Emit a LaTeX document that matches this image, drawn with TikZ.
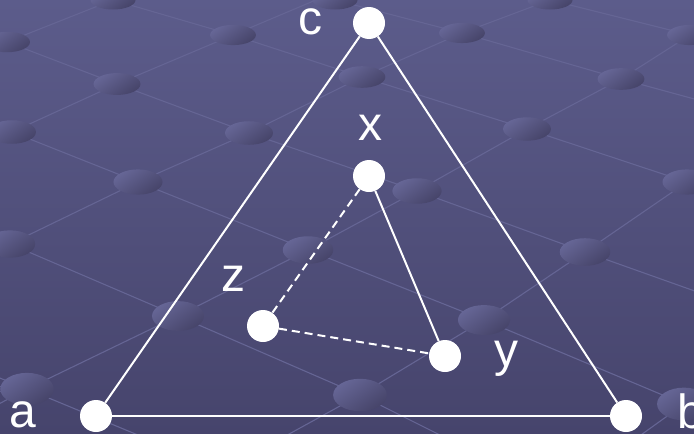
\documentclass[tikz,border=0pt]{standalone}
\usepackage{fontspec}
\setmainfont{Liberation Sans}
\usetikzlibrary{arrows}

\definecolor{bgtop}{RGB}{92,92,139}
\definecolor{bgbot}{RGB}{70,68,108}
\definecolor{gridln}{RGB}{101,101,148}
\definecolor{spotlt}{RGB}{102,102,150}
\definecolor{spotdk}{RGB}{70,68,105}

\tikzset{
  vertex/.style={circle,fill=white,draw=none,inner sep=0pt,minimum size=32pt},
  lab/.style={text=white,inner sep=0pt,font=\fontsize{48}{52}\selectfont},
  solidedge/.style={white,line width=2pt},
  dashedge/.style={white,line width=2pt,dash pattern=on 8pt off 5pt},
  gridline/.style={gridln,line width=1.1pt}
}

\begin{document}
\begin{tikzpicture}[x=1pt,y=-1pt]
\useasboundingbox (0,0) rectangle (694,434);
\fill[top color=bgtop,bottom color=bgbot] (0,0) rectangle (694,434);

% background grid
\begin{scope}
\clip (0,0) rectangle (694,434);
\foreach \gl in {
  {(300,-9) -- (335,0) -- (462,33) -- (621,79) -- (720,106)},
  {(520,-8) -- (550,0) -- (690,35) -- (720,42)},
  {(-20,32) -- (7,42) -- (117,84) -- (249,133) -- (417,191) -- (585,252) -- (720,300)},
  {(80,-10) -- (113,0) -- (233,35) -- (362,77) -- (527,129) -- (687,182) -- (720,193)},
  {(-20,120) -- (12,132) -- (138,182) -- (308,250) -- (484,320) -- (684,404) -- (720,419)},
  {(-20,234) -- (10,244) -- (178,316) -- (360,395) -- (450,440)},
  {(-20,370) -- (27,389) -- (150,440)},
  {(-20,58) -- (7,42) -- (113,0) -- (140,-12)},
  {(-20,147) -- (12,132) -- (117,84) -- (233,35) -- (349,-14)},
  {(-20,259) -- (10,244) -- (138,182) -- (249,133) -- (362,77) -- (462,33) -- (550,0) -- (580,-14)},
  {(-20,414) -- (27,389) -- (178,316) -- (308,250) -- (417,191) -- (527,129) -- (621,79) -- (690,35) -- (720,17)},
  {(260,450) -- (360,395) -- (484,320) -- (585,252) -- (687,182) -- (720,160)},
  {(620,450) -- (684,404) -- (720,380)}}
  \draw[gridline] \gl;
\foreach \ox/\oy in {7/42,113/0,335/0,233/35,117/84,12/132,249/133,138/182,362/77,
  462/33,550/0,690/35,621/79,527/129,417/191,308/250,10/244,178/316,27/389,
  484/320,585/252,687/182,360/395,684/404}
  \shade[top color=spotlt,bottom color=spotdk,shading angle=35]
    (\ox,\oy) ellipse [x radius={22.5+0.011*\oy}, y radius={9.5+0.017*\oy}];
\end{scope}

\node[vertex] (c) at (369,23) {};
\node[vertex] (x) at (369,176) {};
\node[vertex] (z) at (263,326) {};
\node[vertex] (y) at (445,356) {};
\node[vertex] (a) at (96,416) {};
\node[vertex] (b) at (626,416) {};

\path[solidedge] (a) edge (c) (c) edge (b) (a) edge (b) (x) edge (y);
\path[dashedge] (x) edge (z) (z) edge (y);

\node[lab] (lc) at (310,22) {c};
\node[lab] (lx) at (370,128) {x};
\node[lab] (lz) at (233,279) {z};
\node[lab] (ly) at (506,359) {y};
\node[lab] (la) at (23,415) {a};
\node[lab] (lb) at (691,411) {b};
\end{tikzpicture}
\end{document}
